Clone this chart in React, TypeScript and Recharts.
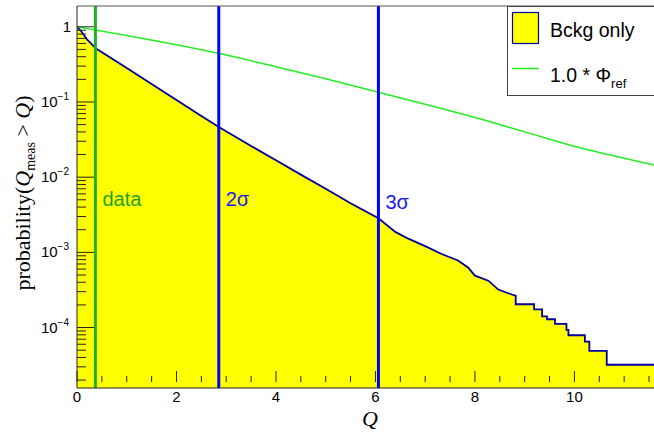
import React from "react";
import { ComposedChart, Area, Line, XAxis, YAxis, ReferenceLine } from "recharts";

// background-only survival curve (histogram steps in the tail)
const bckgQ = [
  0, 0.08, 0.2, 0.39, 1.0, 1.5, 2.0, 2.5, 2.86, 3.5, 4.0, 4.5, 5.0, 5.5, 6.06,
  6.4, 6.66, 7.0, 7.33, 7.66, 7.86, 8.0, 8.27, 8.47, 8.74, 8.82, 8.82, 9.19,
  9.19, 9.35, 9.35, 9.45, 9.45, 9.61, 9.61, 9.84, 9.84, 9.88, 9.88, 10.21,
  10.21, 10.3, 10.3, 10.65, 10.65, 11.6,
];
const bckgP = [
  1.0, 0.88, 0.68, 0.51, 0.283, 0.173, 0.106, 0.065, 0.046, 0.026, 0.0168,
  0.0108, 0.007, 0.0045, 0.00284, 0.00187, 0.00152, 0.00121, 0.00095, 0.00078,
  0.00063, 0.00049, 0.00042, 0.00032, 0.000275, 0.000265, 0.000204, 0.000204,
  0.000174, 0.000174, 0.000141, 0.000141, 0.000129, 0.000129, 0.000112,
  0.000112, 0.000093, 0.000093, 0.000079, 0.000079, 0.000065, 0.000065,
  0.000049, 0.000049, 0.000032, 0.000032,
];

// reference distribution 1.0 * Phi_ref
const refQ = [0, 1, 2, 2.86, 4, 5, 6, 7, 8, 9, 10, 11, 11.6];
const refP = [1.0, 0.767, 0.575, 0.44, 0.295, 0.204, 0.138, 0.093, 0.062, 0.04, 0.0257, 0.0178, 0.0145];

// vertical markers
const markerQ = [0.37, 2.85, 6.06];
const markerText = ["data", "2σ", "3σ"];
const markerColor = ["#22b022", "#0000ff", "#0000ff"];
const markerTextColor = ["#1fa31f", "#1a1aee", "#1a1aee"];

const xTicks = [0, 0.5, 1, 1.5, 2, 2.5, 3, 3.5, 4, 4.5, 5, 5.5, 6, 6.5, 7, 7.5, 8, 8.5, 9, 9.5, 10, 10.5, 11, 11.5];
const xLabels = [0, 2, 4, 6, 8, 10];
const yDecades = [1e-5, 1e-4, 1e-3, 1e-2, 1e-1, 1];
const yMinor = [1, 2, 3, 4, 5, 6, 7, 8, 9];

const X_MAX = 11.6;
const Y_MIN = 1.57e-5;
const Y_MAX = 1.89;

const W = 654;
const H = 433;
const PLOT_LEFT = 77;
const PLOT_TOP = 6;
const PLOT_BOTTOM = 382;

const SANS = "'Liberation Sans', Arial, Helvetica, sans-serif";
const SERIF = "'Liberation Serif', 'Times New Roman', serif";

const bckgData = bckgQ.map((q, i) => ({ q, p: bckgP[i] }));
const refData = refQ.map((q, i) => ({ q, p: refP[i] }));
const yTicks = yDecades
  .flatMap((d) => yMinor.map((m) => m * d))
  .filter((v) => v >= Y_MIN && v <= Y_MAX);

function YTick(props: any) {
  const { y, payload } = props;
  const v = payload.value;
  const lg = Math.log10(v);
  const exp = Math.round(lg);
  const major = Math.abs(lg - exp) < 1e-6;
  return (
    <g>
      <line x1={PLOT_LEFT} x2={PLOT_LEFT + (major ? 17 : 9)} y1={y} y2={y} stroke="#222" strokeWidth={1} />
      {major &&
        (exp === 0 ? (
          <text x={71} y={y + 5} textAnchor="end" fontSize={15} fontFamily={SANS} fill="#000">
            1
          </text>
        ) : (
          <text x={69} y={y + 5} textAnchor="end" fontSize={15} fontFamily={SANS} fill="#000">
            10
            <tspan dy={-7} fontSize={10}>
              {"\u2212" + -exp}
            </tspan>
          </text>
        ))}
    </g>
  );
}

function XTick(props: any) {
  const { x, payload } = props;
  const v = payload.value;
  const major = xLabels.includes(v);
  return (
    <g>
      <line x1={x} x2={x} y1={PLOT_BOTTOM} y2={PLOT_BOTTOM - (major ? 11 : 6)} stroke="#222" strokeWidth={1} />
      {major && (
        <text x={x} y={402} textAnchor="middle" fontSize={15} fontFamily={SANS} fill="#000">
          {v}
        </text>
      )}
    </g>
  );
}

const yTitle = () => (
  <text transform="translate(30,193) rotate(-90)" textAnchor="middle" fontFamily={SERIF} fontSize={22} fill="#000">
    probability(<tspan fontStyle="italic">Q</tspan>
    <tspan dy={5} fontSize={14}>meas</tspan>
    <tspan dy={-5}>{" > "}</tspan>
    <tspan fontStyle="italic">Q</tspan>)
  </text>
);

const xTitle = () => (
  <text x={370} y={426} textAnchor="middle" fontFamily={SERIF} fontSize={22} fontStyle="italic" fill="#000">
    Q
  </text>
);

export default function App() {
  return (
    <div style={{ position: "absolute", left: 0, top: 0, width: W, height: H, background: "#fff", overflow: "hidden" }}>
      <ComposedChart width={W} height={H} margin={{ top: PLOT_TOP, right: 0, bottom: 0, left: 0 }}>
        <Area
          data={bckgData}
          dataKey="p"
          type="linear"
          fill="#ffff00"
          fillOpacity={1}
          stroke="#000099"
          strokeWidth={1.8}
          isAnimationActive={false}
          dot={false}
          activeDot={false}
        />
        <Line
          data={refData}
          dataKey="p"
          type="monotone"
          stroke="#22ee22"
          strokeWidth={1.5}
          dot={false}
          activeDot={false}
          isAnimationActive={false}
        />
        {markerQ.map((q, i) => (
          <ReferenceLine
            key={markerText[i]}
            x={q}
            stroke={markerColor[i]}
            strokeWidth={3}
            label={(lp: any) => (
              <text
                x={lp.viewBox.x + 7}
                y={i === 2 ? 209 : 206}
                fontSize={20}
                fontFamily={SANS}
                fill={markerTextColor[i]}
              >
                {markerText[i]}
              </text>
            )}
          />
        ))}
        <ReferenceLine y={Y_MAX} stroke="#555" strokeWidth={1} />
        <XAxis
          dataKey="q"
          type="number"
          domain={[0, X_MAX]}
          allowDataOverflow
          ticks={xTicks}
          interval={0}
          height={H - PLOT_BOTTOM - PLOT_TOP}
          tickLine={false}
          tick={XTick}
          axisLine={{ stroke: "#222" }}
          label={{ content: xTitle }}
        />
        <YAxis
          type="number"
          scale="log"
          domain={[Y_MIN, Y_MAX]}
          allowDataOverflow
          ticks={yTicks}
          interval={0}
          width={PLOT_LEFT}
          tickLine={false}
          tick={YTick}
          axisLine={{ stroke: "#222" }}
          label={{ content: yTitle }}
        />
      </ComposedChart>
      <div
        style={{
          position: "absolute",
          left: 507,
          top: 6,
          width: 147,
          height: 90,
          border: "1px solid #444",
          borderRight: "none",
          background: "#fff",
          boxSizing: "border-box",
        }}
      >
        <svg width={147} height={90} style={{ display: "block" }}>
          <rect x={4.5} y={5.5} width={26} height={31} fill="#ffff00" stroke="#0000aa" strokeWidth={1.2} />
          <text x={42} y={30} fontSize={19.5} fontFamily={SANS} fill="#000">
            Bckg only
          </text>
          <line x1={4} x2={31} y1={61.5} y2={61.5} stroke="#22ee22" strokeWidth={1.5} />
          <text x={42} y={75} fontSize={19.5} fontFamily={SANS} fill="#000">
            1.0 * Φ<tspan dy={6} fontSize={13}>ref</tspan>
          </text>
        </svg>
      </div>
    </div>
  );
}
